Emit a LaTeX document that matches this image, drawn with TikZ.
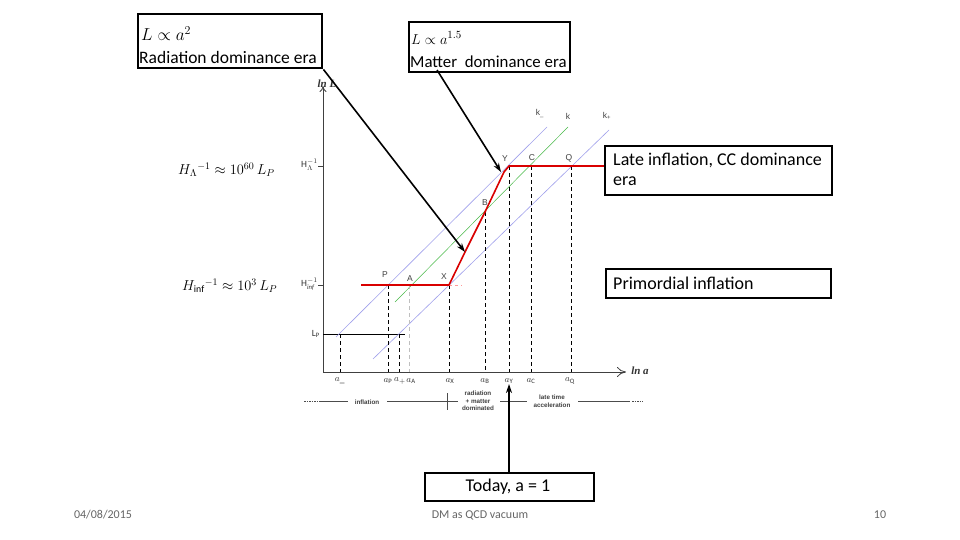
\documentclass[tikz,border=0pt]{standalone}
\usepackage{fontspec}
\setmainfont{Carlito}
\newfontfamily\tinysans{Liberation Sans}
\newfontfamily\serifface{Liberation Serif}
\usetikzlibrary{arrows.meta}
\tikzset{
  callout/.style={draw=black,line width=2.4pt,fill=white,anchor=north west,inner sep=0pt},
  boxtext/.style={font=\fontsize{18}{20}\selectfont,anchor=west,inner sep=0pt},
  bigarrow/.style={line width=1.6pt,-{Stealth[length=9pt,width=6pt]}},
  curve/.style={red!85!black,line width=1.6pt,line join=round},
  kline/.style={blue!35!white!85!gray,line width=0.6pt},
  kgreen/.style={green!45!gray,line width=0.5pt},
  vdash/.style={black,dashed,dash pattern=on 4pt off 3pt,line width=0.8pt},
  pointlbl/.style={font=\tinysans\fontsize{8.5}{9}\selectfont,text=black!75,inner sep=0pt},
  axlbl/.style={font=\fontsize{9.5}{10}\selectfont,text=black!80,inner sep=0pt},
  eralbl/.style={font=\tinysans\bfseries\fontsize{6.3}{7.5}\selectfont,text=black!75,inner sep=0pt,align=center},
  footer/.style={font=\fontsize{12}{13}\selectfont,text=black!60,inner sep=0pt},
  axname/.style={font=\serifface\bfseries\itshape\fontsize{11}{12}\selectfont,text=black!80,inner sep=0pt},
}
\begin{document}
\begin{tikzpicture}[x=1pt,y=-1pt]
\useasboundingbox[fill=white] (0,0) rectangle (960,540);

% ---------------- axes ----------------
\coordinate (O) at (323,372);
\coordinate (ytop) at (323,86);
\coordinate (xend) at (626,372);
\draw[black!75,line width=0.8pt,-{To[length=6pt,width=7pt]}] (O) -- (ytop);
\draw[black!75,line width=0.8pt,-{To[length=9pt,width=10pt]}] (O) -- (xend);
\node[axname] (lnL) at (327,84) {ln L};
\node[axname] (lna) at (640,371) {ln a};

% y tick labels
\node[axlbl,anchor=east] (tHL) at (318,165) {$\mathrm{H}_{\Lambda}^{-1}$};
\draw[black!75] (318,166) -- (323,166);
\node[axlbl,anchor=east] (tHi) at (318,284) {$\mathrm{H}_{\mathit{inf}}^{-1}$};
\draw[black!75] (318,285) -- (323,285);
\node[axlbl,anchor=east] (tLP) at (320,334) {$\mathrm{L}_{\mathrm{P}}$};

% Lp line
\coordinate (LPa) at (323,334);
\coordinate (LPb) at (405,334);
\draw[black,line width=0.9pt] (LPa) -- (LPb);

% ---------------- k lines ----------------
\coordinate (km1) at (336,337);
\coordinate (km2) at (547,127);
\coordinate (k1) at (395,302);
\coordinate (k2) at (568,127);
\coordinate (kp1) at (373,359);
\coordinate (kp2) at (609,130);
\draw[kline] (km1) -- (km2);
\draw[kgreen] (k1) -- (k2);
\draw[kline] (kp1) -- (kp2);
\node[pointlbl] (lkm) at (540,114) {k\textsubscript{\_}};
\node[pointlbl] (lk) at (568,116) {k};
\node[pointlbl] (lkp) at (607,116) {k\textsubscript{+}};

% ---------------- key points ----------------
\coordinate (P) at (388,285);
\coordinate (A) at (409,285);
\coordinate (X) at (449,285);
\coordinate (B) at (485,212);
\coordinate (Y) at (509,166);
\coordinate (C) at (531,166);
\coordinate (Q) at (571,166);
\coordinate (Rstart) at (361,285);
\coordinate (Rend) at (605,166);
\coordinate (Xext) at (462,285);

% dashed verticals
\foreach \n/\xx/\yy in {am/340/334, aP/388/285, ap/399/334, aX/449/285, aB/485/212, aY/509/166, aC/531/166, aQ/571/166}{
  \coordinate (\n top) at (\xx,\yy);
  \coordinate (\n bot) at (\xx,372);
  \draw[vdash] (\n top) -- (\n bot);
}
\coordinate (aAtop) at (409,285);
\coordinate (aAbot) at (409,372);
\draw[black!25,dashed,dash pattern=on 4pt off 3pt,line width=0.8pt] (aAtop) -- (aAbot);

% red curve
\draw[red!40,dashed,line width=0.8pt] (X) -- (Xext);
\draw[curve] (Rstart) -- (X) -- (466,250) -- (B) -- (504,172) -- (Y) -- (Rend);

\node[pointlbl] (lP) at (385,275) {P};
\node[pointlbl] (lA) at (410,279) {A};
\node[pointlbl] (lX) at (444,277) {X};
\node[pointlbl] (lB) at (485,203) {B};
\node[pointlbl] (lY) at (505,159) {Y};
\node[pointlbl] (lC) at (532,158) {C};
\node[pointlbl] (lQ) at (569,158) {Q};

% x tick labels
\foreach \n/\xx/\s in {xm/340/{\_},xP/388/{\mathrm{P}},xp/400/{+},xA/411/{\mathrm{A}},xX/450/{\mathrm{X}},xB/485/{\mathrm{B}},xY/509/{\mathrm{Y}},xC/531/{\mathrm{C}},xQ/570/{\mathrm{Q}}}{
  \node[axlbl] (\n) at (\xx,381) {$a_{\s}$};
}

% ---------------- era line ----------------
\draw[black!70,dash pattern=on 1.5pt off 1pt,line width=0.7pt] (304,401) -- (320,401);
\draw[black!70,line width=0.7pt] (320,401) -- (348,401);
\node[eralbl] (einf) at (367,402) {inflation};
\draw[black!70,line width=0.7pt] (387,401) -- (458,401);
\draw[black!70,line width=0.7pt] (447,393) -- (447,410);
\node[eralbl] (erad) at (478,401) {radiation\\+ matter\\dominated};
\draw[black!70,line width=0.7pt] (500,401) -- (527,401);
\node[eralbl] (elate) at (552,401) {late time\\acceleration};
\draw[black!70,line width=0.7pt] (578,401) -- (630,401);
\draw[black!70,dash pattern=on 1.5pt off 1pt,line width=0.7pt] (632,401) -- (643,401);

% ---------------- left formulas ----------------
\node[font=\fontsize{14}{16}\selectfont,anchor=west,inner sep=0pt] (fHL) at (178,170) {$H_{\Lambda}{}^{-1}\approx 10^{60}\,L_P$};
\node[font=\fontsize{14}{16}\selectfont,anchor=west,inner sep=0pt] (fHi) at (182,286) {$H_{\mathrm{inf}}{}^{-1}\approx 10^{3}\,L_P$};

% ---------------- callout boxes ----------------
\node[callout,minimum width=184pt,minimum height=54pt] (rad) at (137,13) {};
\node[boxtext,font=\fontsize{18}{20}\selectfont] (radeq) at (141,34) {$L\propto a^{2}$};
\node[boxtext,font=\fontsize{17.5}{20}\selectfont] (radtx) at (139,57) {Radiation dominance era};

\node[callout,minimum width=161pt,minimum height=50pt] (mat) at (408,21) {};
\node[boxtext,font=\fontsize{15}{17}\selectfont] (mateq) at (411,38) {$L\propto a^{1.5}$};
\node[boxtext,font=\fontsize{16.8}{19}\selectfont] (mattx) at (410,62) {Matter\ \ dominance era};

\node[callout,minimum width=227pt,minimum height=49pt] (late) at (604,145) {};
\node[boxtext] (late1) at (613,160) {Late inflation, CC dominance};
\node[boxtext] (late2) at (613,181) {era};

\node[callout,minimum width=225pt,minimum height=29pt] (prim) at (605,268) {};
\node[boxtext] (primtx) at (613,283) {Primordial inflation};

\node[callout,minimum width=169pt,minimum height=28pt] (today) at (424,472) {};
\node[boxtext,anchor=center] (todaytx) at (508,487) {Today, a = 1};

% arrows
\coordinate (radtip) at (465,252);
\coordinate (mattail) at (437,70);
\coordinate (mattip) at (501,172);
\coordinate (todaytip) at (509,384);
\draw[bigarrow] (rad.south east) -- (radtip);
\draw[bigarrow] (mattail) -- (mattip);
\draw[bigarrow] (today.north -| todaytip) -- (todaytip);

% ---------------- footer ----------------
\node[footer] (date) at (103,515) {04/08/2015};
\node[footer] (title) at (480,515) {DM as QCD vacuum};
\node[footer] (page) at (880,515) {10};
\end{tikzpicture}
\end{document}
